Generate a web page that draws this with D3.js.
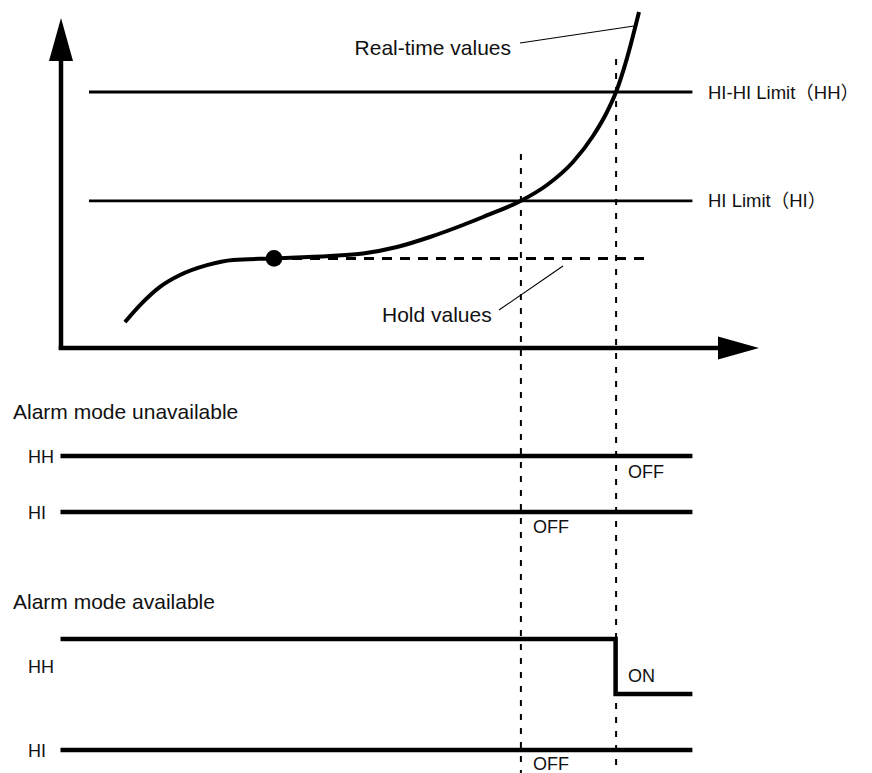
<!DOCTYPE html>
<html>
<head>
<meta charset="utf-8">
<script src="https://cdn.jsdelivr.net/npm/d3@7"></script>
<style>
  html, body { margin: 0; padding: 0; background: #fff; }
  svg { display: block; }
  text { font-family: "Liberation Sans", Arial, "Noto Sans CJK JP", sans-serif; fill: #111; }
</style>
</head>
<body>
<svg id="chart" width="872" height="773"></svg>
<script>
// ---------------- data ----------------
const timeDomain = [0, 100];
const valueDomain = [0, 100];

const limitNames  = ["HI-HI Limit（HH）", "HI Limit（HI）"];
const limitValues = [80, 46];
const limitSpan   = [4, 90.2];

// real-time value curve (time, value)
const curveT = [9.14, 11.29, 14.14, 17.0, 20.86, 24.57, 30.43, 38.43, 43.14, 48.0, 52.71, 57.43, 60.29, 65.71, 69.43, 73.14, 76.0, 78.0, 79.29, 80.86, 82.57];
const curveV = [8.1, 13.4, 19.1, 22.8, 25.9, 27.5, 28.0, 28.75, 29.53, 31.56, 34.69, 38.44, 40.94, 46, 50.94, 58.13, 66.25, 73.75, 80, 90.6, 105];

// hold value
const holdT = [30.43, 83.4];
const holdV = 28;

// crossing times (HI, HH) and where their guide lines start
const crossT = [65.7, 79.3];
const crossTopV = [60.6, 90.3];

// alarm sections
const sectionTitles = ["Alarm mode unavailable", "Alarm mode available"];
const signalNames = ["HH", "HI"];
// state changes: [state, start time]
const unavailHH = [["OFF", 0]];
const unavailHI = [["OFF", 0]];
const availHH   = [["OFF", 0], ["ON", 79.3]];
const availHI   = [["OFF", 0]];
const signalEnd = 90.2;

// ---------------- drawing ----------------
const svg = d3.select("#chart");
const x = d3.scaleLinear().domain(timeDomain).range([61, 761]);
const y = d3.scaleLinear().domain(valueDomain).range([348, 28]);

// axes
const ox = x(0), oy = y(0);
svg.append("line").attr("x1", ox).attr("y1", oy + 2).attr("x2", ox).attr("y2", 60)
  .attr("stroke", "#000").attr("stroke-width", 4.5);
svg.append("line").attr("x1", ox - 2.25).attr("y1", oy).attr("x2", 719).attr("y2", oy)
  .attr("stroke", "#000").attr("stroke-width", 4.5);
svg.append("path").attr("d", `M${ox - 12},61 L${ox + 12},61 L${ox},18 Z`).attr("fill", "#000");
svg.append("path").attr("d", `M718,${oy - 11.5} L718,${oy + 11.5} L759,${oy} Z`).attr("fill", "#000");

// limit lines
limitValues.forEach((v, i) => {
  svg.append("line")
    .attr("x1", x(limitSpan[0])).attr("x2", x(limitSpan[1]))
    .attr("y1", y(v)).attr("y2", y(v))
    .attr("stroke", "#000").attr("stroke-width", 2.8);
  svg.append("text")
    .attr("x", 708).attr("y", y(v) + 6.5)
    .attr("font-size", 18.5)
    .text(limitNames[i]);
});

// vertical dashed guides
const bottomY = 773;
crossT.forEach((t, i) => {
  svg.append("line")
    .attr("x1", x(t)).attr("x2", x(t))
    .attr("y1", y(crossTopV[i])).attr("y2", bottomY)
    .attr("stroke", "#000").attr("stroke-width", 2)
    .attr("stroke-dasharray", "6,8");
});

// hold line
svg.append("line")
  .attr("x1", x(holdT[0])).attr("x2", x(holdT[1]))
  .attr("y1", y(holdV)).attr("y2", y(holdV))
  .attr("stroke", "#000").attr("stroke-width", 3)
  .attr("stroke-dasharray", "10,8");

// real-time curve
const pts = curveT.map((t, i) => [t, curveV[i]]);
svg.append("path")
  .datum(pts)
  .attr("d", d3.line().x(d => x(d[0])).y(d => y(d[1])).curve(d3.curveMonotoneX))
  .attr("fill", "none").attr("stroke", "#000").attr("stroke-width", 4);

// hold point
svg.append("circle").attr("cx", x(holdT[0])).attr("cy", y(holdV)).attr("r", 8.3).attr("fill", "#000");

// callouts
svg.append("line").attr("x1", 520).attr("y1", 43).attr("x2", 634).attr("y2", 26)
  .attr("stroke", "#000").attr("stroke-width", 1.1);
svg.append("text").attr("x", 511).attr("y", 55).attr("text-anchor", "end")
  .attr("font-size", 21).text("Real-time values");
svg.append("line").attr("x1", 499).attr("y1", 310).attr("x2", 563).attr("y2", 266)
  .attr("stroke", "#000").attr("stroke-width", 1.1);
svg.append("text").attr("x", 382).attr("y", 322)
  .attr("font-size", 21).text("Hold values");

// alarm sections
const sections = [
  { title: sectionTitles[0], titleY: 419,
    rows: [ { name: signalNames[0], states: unavailHH, yOff: 456, yOn: 511 },
            { name: signalNames[1], states: unavailHI, yOff: 512, yOn: 567 } ] },
  { title: sectionTitles[1], titleY: 609,
    rows: [ { name: signalNames[0], states: availHH, yOff: 639, yOn: 694 },
            { name: signalNames[1], states: availHI, yOff: 750, yOn: 805 } ] }
];

const stepLine = d3.line().x(d => d.x).y(d => d.y).curve(d3.curveStepAfter);

sections.forEach(sec => {
  svg.append("text").attr("x", 13).attr("y", sec.titleY).attr("font-size", 21).text(sec.title);
  sec.rows.forEach(row => {
    const lvl = s => (s === "ON" ? row.yOn : row.yOff);
    const p = row.states.map(([s, t]) => ({ x: x(t) - 0.5, y: lvl(s) }));
    const last = row.states[row.states.length - 1];
    p.push({ x: x(signalEnd), y: lvl(last[0]) });
    svg.append("path").attr("d", stepLine(p))
      .attr("fill", "none").attr("stroke", "#000").attr("stroke-width", 4.5)
      .attr("stroke-linejoin", "miter");
    const levels = [...new Set(row.states.map(d => lvl(d[0])))];
    const mid = d3.mean(levels);
    svg.append("text").attr("x", 28).attr("y", mid + 6.5).attr("font-size", 18).text(row.name);
  });
});

// state labels near the guides
const stateLabels = [
  { text: "OFF", t: crossT[1], yb: 478 },
  { text: "OFF", t: crossT[0], yb: 533 },
  { text: "ON",  t: crossT[1], yb: 682 },
  { text: "OFF", t: crossT[0], yb: 770 }
];
stateLabels.forEach(d => {
  svg.append("text").attr("x", x(d.t) + 12).attr("y", d.yb).attr("font-size", 18).text(d.text);
});
</script>
</body>
</html>
